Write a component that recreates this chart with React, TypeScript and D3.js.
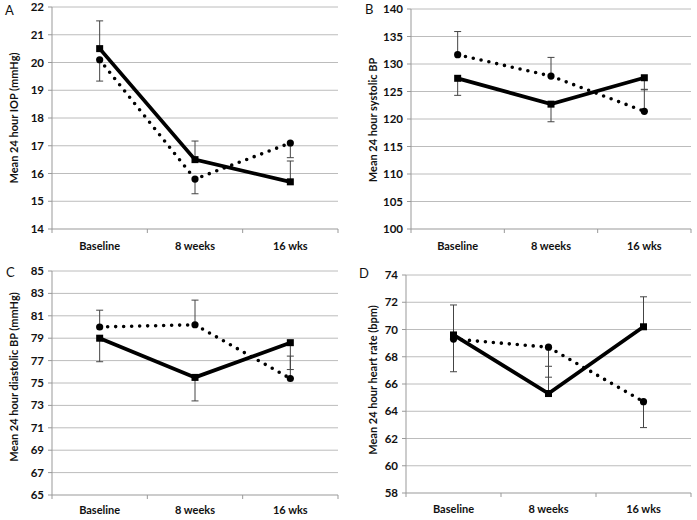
import React from "react";
import * as d3 from "d3";

const categories = ["Baseline", "8 weeks", "16 wks"];

// Panel A – IOP
const iopSolid = [20.5, 16.5, 15.7];
const iopSolidErr = [1.0, 0.67, 0.75];
const iopDotted = [20.1, 15.8, 17.1];
const iopDottedErr = [0.77, 0.53, 0.53];
const iopTicks = [14, 15, 16, 17, 18, 19, 20, 21, 22];

// Panel B – systolic BP
const sbpSolid = [127.4, 122.7, 127.5];
const sbpSolidErr = [3.1, 3.2, 2.2];
const sbpDotted = [131.7, 127.8, 121.4];
const sbpDottedErr = [4.2, 3.4, 4.0];
const sbpTicks = [100, 105, 110, 115, 120, 125, 130, 135, 140];

// Panel C – diastolic BP
const dbpSolid = [79.0, 75.5, 78.6];
const dbpSolidErr = [2.1, 2.1, 2.4];
const dbpDotted = [80.0, 80.2, 75.4];
const dbpDottedErr = [1.5, 2.2, 2.0];
const dbpTicks = [65, 67, 69, 71, 73, 75, 77, 79, 81, 83, 85];

// Panel D – heart rate
const hrSolid = [69.6, 65.3, 70.2];
const hrSolidErr = [2.2, 2.0, 2.2];
const hrDotted = [69.3, 68.7, 64.7];
const hrDottedErr = [2.4, 2.2, 1.9];
const hrTicks = [58, 60, 62, 64, 66, 68, 70, 72, 74];

const FONT = "Lato, 'Open Sans', sans-serif";

type PanelProps = {
  letter: string;
  title: string;
  ticks: number[];
  solid: number[];
  solidErr: number[];
  solidDir: number;
  dotted: number[];
  dottedErr: number[];
  dottedDir: number;
  left: number;
  right: number;
  top: number;
  bottom: number;
  letterX: number;
  letterY: number;
  titleX: number;
  titleY: number;
  catY: number;
};

function Panel(p: PanelProps) {
  const y = d3
    .scaleLinear()
    .domain([p.ticks[0], p.ticks[p.ticks.length - 1]])
    .range([p.bottom, p.top]);
  const x = d3
    .scaleBand<string>()
    .domain(categories)
    .range([p.left, p.right])
    .padding(0);
  const cx = (c: string) => (x(c) as number) + x.bandwidth() / 2;
  const line = d3
    .line<number>()
    .x((_, i) => cx(categories[i]))
    .y((v) => y(v));
  const boundaries = [p.left, ...categories.map((c) => (x(c) as number) + x.bandwidth())];

  const errBars = (vals: number[], errs: number[], dir: number, key: string) =>
    vals.map((v, i) => {
      const xx = cx(categories[i]);
      const y0 = y(v);
      const y1 = y(v + dir * errs[i]);
      return (
        <g key={key + i} stroke="#444" strokeWidth={1}>
          <line x1={xx} x2={xx} y1={y0} y2={y1} />
          <line x1={xx - 3.5} x2={xx + 3.5} y1={y1} y2={y1} />
        </g>
      );
    });

  return (
    <g>
      {p.ticks.map((t) => (
        <g key={"g" + t}>
          <line
            x1={p.left}
            x2={p.right}
            y1={y(t)}
            y2={y(t)}
            stroke={t === p.ticks[0] ? "#999" : "#bcbcbc"}
            strokeWidth={1}
          />
          <line x1={p.left - 4} x2={p.left} y1={y(t)} y2={y(t)} stroke="#999" />
          <text
            x={p.left - 8}
            y={y(t)}
            dy="0.35em"
            textAnchor="end"
            fontFamily={FONT}
            fontWeight={700}
            fontSize={11.5}
            fill="#111"
          >
            {t}
          </text>
        </g>
      ))}
      <line x1={p.left} x2={p.left} y1={p.top} y2={p.bottom} stroke="#999" />
      {boundaries.map((b, i) => (
        <line key={"xt" + i} x1={b} x2={b} y1={p.bottom} y2={p.bottom + 4} stroke="#999" />
      ))}
      {categories.map((c) => (
        <text
          key={c}
          x={cx(c)}
          y={p.catY}
          textAnchor="middle"
          fontFamily={FONT}
          fontWeight={700}
          fontSize={11}
          fill="#111"
        >
          {c}
        </text>
      ))}
      <text
        transform={`translate(${p.titleX},${p.titleY}) rotate(-90)`}
        textAnchor="middle"
        dy="0.35em"
        fontFamily={FONT}
        fontWeight={700}
        fontSize={11}
        fill="#111"
      >
        {p.title}
      </text>
      <text x={p.letterX} y={p.letterY} fontFamily={FONT} fontSize={13} fill="#111">
        {p.letter}
      </text>
      {errBars(p.solid, p.solidErr, p.solidDir, "se")}
      {errBars(p.dotted, p.dottedErr, p.dottedDir, "de")}
      <path
        d={line(p.dotted) || ""}
        fill="none"
        stroke="#000"
        strokeWidth={3.6}
        strokeLinecap="round"
        strokeDasharray="0 8"
      />
      <path d={line(p.solid) || ""} fill="none" stroke="#000" strokeWidth={3.8} />
      {p.dotted.map((v, i) => (
        <circle key={"dc" + i} cx={cx(categories[i])} cy={y(v)} r={3.6} fill="#000" />
      ))}
      {p.solid.map((v, i) => (
        <rect
          key={"sr" + i}
          x={cx(categories[i]) - 3.5}
          y={y(v) - 3.5}
          width={7}
          height={7}
          fill="#000"
        />
      ))}
    </g>
  );
}

export default function App() {
  return (
    <svg width={697} height={520} style={{ display: "block", position: "absolute", left: 0, top: 0, background: "#fff" }}>
      <rect width={697} height={520} fill="#fff" />
      <Panel
        letter="A"
        title="Mean 24 hour IOP (mmHg)"
        ticks={iopTicks}
        solid={iopSolid}
        solidErr={iopSolidErr}
        solidDir={1}
        dotted={iopDotted}
        dottedErr={iopDottedErr}
        dottedDir={-1}
        left={52}
        right={338}
        top={7}
        bottom={229}
        letterX={5}
        letterY={15}
        titleX={14}
        titleY={118}
        catY={250}
      />
      <Panel
        letter="B"
        title="Mean 24 hour systolic BP"
        ticks={sbpTicks}
        solid={sbpSolid}
        solidErr={sbpSolidErr}
        solidDir={-1}
        dotted={sbpDotted}
        dottedErr={sbpDottedErr}
        dottedDir={1}
        left={411}
        right={691}
        top={9}
        bottom={229}
        letterX={365}
        letterY={14}
        titleX={373}
        titleY={120}
        catY={250}
      />
      <Panel
        letter="C"
        title="Mean 24 hour diastolic BP (mmHg)"
        ticks={dbpTicks}
        solid={dbpSolid}
        solidErr={dbpSolidErr}
        solidDir={-1}
        dotted={dbpDotted}
        dottedErr={dbpDottedErr}
        dottedDir={1}
        left={52}
        right={338}
        top={271}
        bottom={495}
        letterX={6}
        letterY={277}
        titleX={14}
        titleY={377}
        catY={514}
      />
      <Panel
        letter="D"
        title="Mean 24 hour heart rate (bpm)"
        ticks={hrTicks}
        solid={hrSolid}
        solidErr={hrSolidErr}
        solidDir={1}
        dotted={hrDotted}
        dottedErr={hrDottedErr}
        dottedDir={-1}
        left={406}
        right={691}
        top={275}
        bottom={493}
        letterX={359}
        letterY={278}
        titleX={373}
        titleY={380}
        catY={513}
      />
    </svg>
  );
}
